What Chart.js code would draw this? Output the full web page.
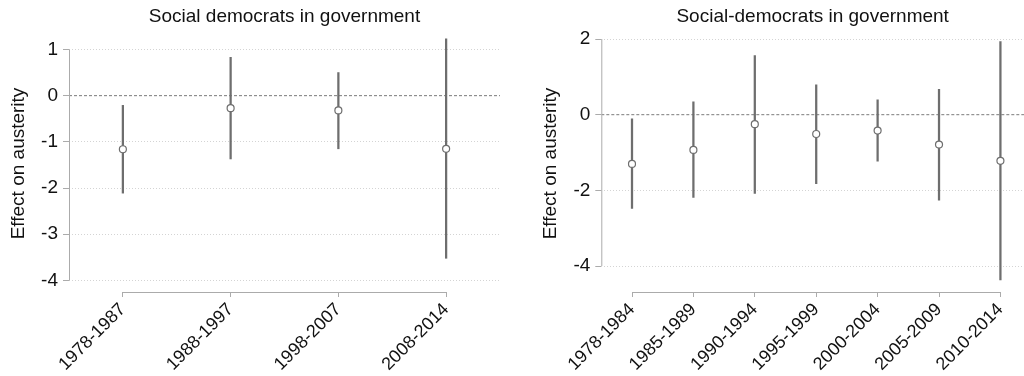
<!DOCTYPE html>
<html>
<head>
<meta charset="utf-8">
<script src="https://cdn.jsdelivr.net/npm/chart.js@4/dist/chart.umd.min.js"></script>
<style>
  html, body { margin: 0; padding: 0; background: #fff; }
  #wrap { position: relative; width: 1024px; height: 376px; overflow: hidden; }
  .box { position: absolute; top: 0; width: 512px; height: 376px; }
  #b1 { left: 0; }
  #b2 { left: 512px; }
</style>
</head>
<body>
<div id="wrap">
  <div class="box" id="b1"><canvas id="c1"></canvas></div>
  <div class="box" id="b2"><canvas id="c2"></canvas></div>
</div>
<script>
// ---- Data: left panel ----
const leftTitle = "Social democrats in government";
const leftCategories = ["1978-1987", "1988-1997", "1998-2007", "2008-2014"];
const leftEstimates = [-1.16, -0.27, -0.32, -1.15];
const leftLower = [-2.11, -1.37, -1.15, -3.52];
const leftUpper = [-0.21, 0.83, 0.50, 1.23];
const leftYTicks = [-4, -3, -2, -1, 0, 1];

// ---- Data: right panel ----
const rightTitle = "Social-democrats in government";
const rightCategories = ["1978-1984", "1985-1989", "1990-1994", "1995-1999", "2000-2004", "2005-2009", "2010-2014"];
const rightEstimates = [-1.30, -0.93, -0.25, -0.51, -0.42, -0.79, -1.22];
const rightLower = [-2.48, -2.19, -2.08, -1.82, -1.23, -2.26, -4.37];
const rightUpper = [-0.11, 0.34, 1.56, 0.79, 0.39, 0.67, 1.93];
const rightYTicks = [-4, -2, 0, 2];

const yAxisLabel = "Effect on austerity";
const FONT = "'Liberation Sans', Arial, Helvetica, sans-serif";

const axisLinesPlugin = {
  id: 'axisLines',
  afterDraw(chart, args, opts) {
    const ctx = chart.ctx, xs = chart.scales.x, ys = chart.scales.y;
    const area = chart.chartArea;
    ctx.save();
    ctx.strokeStyle = '#ababab';
    ctx.lineWidth = 1;
    ctx.setLineDash([]);
    const yt = opts.yTicks;
    const yTop = ys.getPixelForValue(Math.max(...yt));
    const yBot = ys.getPixelForValue(Math.min(...yt));
    ctx.beginPath();
    ctx.moveTo(area.left + 0.5, yTop);
    ctx.lineTo(area.left + 0.5, yBot);
    ctx.stroke();
    const x0 = xs.getPixelForValue(0);
    const x1 = xs.getPixelForValue(opts.n - 1);
    ctx.beginPath();
    ctx.moveTo(x0, area.bottom + 0.5);
    ctx.lineTo(x1, area.bottom + 0.5);
    ctx.stroke();
    ctx.restore();
  }
};

function makeChart(canvasId, cfg) {
  const n = cfg.categories.length;
  const points = cfg.estimates.map((v, i) => ({ x: i, y: v }));
  const bars = cfg.lower.map((lo, i) => ({ x: i, y: [lo, cfg.upper[i]] }));
  const zeroLine = [{ x: cfg.xMin, y: 0 }, { x: cfg.xMax, y: 0 }];
  return new Chart(document.getElementById(canvasId), {
    type: 'scatter',
    data: {
      datasets: [
        {
          type: 'scatter',
          data: points,
          pointStyle: 'circle',
          pointRadius: 3.5,
          pointBorderWidth: 1.2,
          pointBorderColor: '#6e6e6e',
          pointBackgroundColor: '#ffffff',
          showLine: false
        },
        {
          type: 'bar',
          data: bars,
          backgroundColor: '#6e6e6e',
          borderWidth: 0,
          barThickness: 1.6,
          grouped: false
        },
        {
          type: 'line',
          data: zeroLine,
          borderColor: '#7a7a7a',
          borderWidth: 1,
          borderDash: [3, 2],
          pointRadius: 0,
          fill: false
        }
      ]
    },
    options: {
      responsive: true,
      maintainAspectRatio: false,
      devicePixelRatio: 1,
      animation: false,
      events: [],
      layout: { autoPadding: false, padding: { left: cfg.padLeft, right: cfg.padRight, top: 0, bottom: 0 } },
      plugins: {
        legend: { display: false },
        tooltip: { enabled: false },
        title: {
          display: true,
          text: cfg.title,
          fullSize: false,
          color: '#111',
          font: { family: FONT, size: 19, weight: 'normal', lineHeight: 1.2 },
          padding: { top: 5, bottom: 7.2 }
        },
        axisLines: { yTicks: cfg.yTicks, n: n }
      },
      scales: {
        x: {
          type: 'linear',
          offset: false,
          min: cfg.xMin,
          max: cfg.xMax,
          afterBuildTicks: s => { s.ticks = cfg.categories.map((c, i) => ({ value: i })); },
          afterFit: s => { s.height = 84; s.paddingLeft = 0; s.paddingRight = 0; },
          ticks: {
            autoSkip: false,
            minRotation: 45,
            maxRotation: 45,
            padding: 2,
            color: '#111',
            font: { family: FONT, size: 18 },
            callback: v => cfg.categories[v]
          },
          grid: {
            display: true,
            offset: false,
            drawOnChartArea: false,
            drawTicks: true,
            tickLength: 5,
            tickColor: '#ababab',
            color: '#ababab'
          },
          border: { display: false }
        },
        y: {
          type: 'linear',
          min: cfg.yMin,
          max: cfg.yMax,
          afterBuildTicks: s => { s.ticks = cfg.yTicks.map(v => ({ value: v })); },
          afterFit: s => { s.width = cfg.yWidth; s.paddingTop = 0; s.paddingBottom = 0; },
          ticks: {
            padding: 5,
            color: '#111',
            font: { family: FONT, size: 19 },
            callback: v => String(v)
          },
          grid: {
            display: true,
            drawOnChartArea: true,
            drawTicks: true,
            tickLength: 6,
            tickColor: '#ababab',
            tickBorderDash: [],
            color: ctx => (ctx.tick && ctx.tick.value === 0) ? 'rgba(0,0,0,0)' : '#d4d4d4',
            lineWidth: 1
          },
          border: { display: false, dash: [1, 2] },
          title: {
            display: true,
            text: yAxisLabel,
            color: '#111',
            font: { family: FONT, size: 19, lineHeight: 1.2 },
            padding: { top: 7.4, bottom: 0 }
          }
        }
      }
    },
    plugins: [axisLinesPlugin]
  });
}

makeChart('c1', {
  title: leftTitle,
  categories: leftCategories,
  estimates: leftEstimates,
  lower: leftLower,
  upper: leftUpper,
  yTicks: leftYTicks,
  xMin: -0.5, xMax: 3.5,
  yMin: -4.25, yMax: 1.313,
  padLeft: 0, padRight: 12, yWidth: 69
});

makeChart('c2', {
  title: rightTitle,
  categories: rightCategories,
  estimates: rightEstimates,
  lower: rightLower,
  upper: rightUpper,
  yTicks: rightYTicks,
  xMin: -0.5, xMax: 6.384,
  yMin: -4.687, yMax: 2.107,
  padLeft: 20, padRight: 0, yWidth: 69.3
});
</script>
</body>
</html>
